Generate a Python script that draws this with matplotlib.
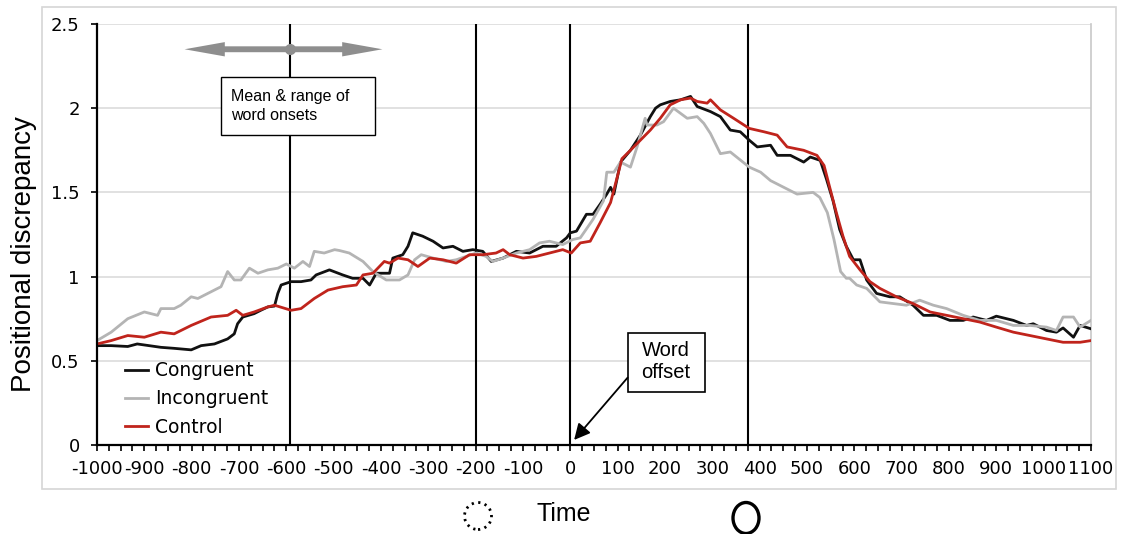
import matplotlib
matplotlib.use("Agg")
import matplotlib.pyplot as plt
import numpy as np
from matplotlib.patches import Rectangle, Ellipse

# ---------------- data ----------------
congruent_time = [-1000, -970, -935, -915, -865, -837, -801, -780, -752, -724,
                  -710, -703, -692, -668, -654, -639, -625, -618, -611, -590,
                  -569, -548, -537, -509, -481, -460, -438, -424, -410, -382,
                  -375, -354, -343, -333, -312, -290, -269, -248, -227, -206,
                  -185, -167, -142, -114, -86, -58, -30, -8, 0, 13,
                  34, 48, 63, 77, 85, 92, 106, 127, 148, 169,
                  180, 190, 211, 233, 254, 268, 296, 317, 338, 359,
                  378, 395, 423, 437, 465, 493, 507, 528, 541, 555,
                  569, 583, 598, 612, 626, 647, 675, 696, 724, 746,
                  774, 802, 830, 851, 879, 900, 936, 964, 978, 1006,
                  1027, 1041, 1063, 1077, 1100]
congruent_value = [0.59, 0.59, 0.585, 0.60, 0.58, 0.574, 0.565, 0.59, 0.60, 0.63,
                   0.66, 0.72, 0.76, 0.78, 0.80, 0.82, 0.825, 0.90, 0.95, 0.97,
                   0.97, 0.98, 1.01, 1.04, 1.01, 0.99, 0.99, 0.95, 1.02, 1.02,
                   1.11, 1.13, 1.18, 1.26, 1.24, 1.21, 1.17, 1.18, 1.15, 1.16,
                   1.15, 1.09, 1.11, 1.15, 1.14, 1.18, 1.18, 1.23, 1.26, 1.27,
                   1.37, 1.37, 1.43, 1.49, 1.53, 1.49, 1.68, 1.75, 1.84, 1.95,
                   2.00, 2.02, 2.04, 2.05, 2.07, 2.01, 1.98, 1.95, 1.87, 1.86,
                   1.81, 1.77, 1.78, 1.72, 1.72, 1.68, 1.71, 1.69, 1.58, 1.45,
                   1.28, 1.18, 1.10, 1.10, 0.98, 0.90, 0.88, 0.88, 0.83, 0.77,
                   0.77, 0.74, 0.74, 0.76, 0.74, 0.765, 0.74, 0.71, 0.72, 0.68,
                   0.67, 0.695, 0.64, 0.71, 0.69]

incongruent_time = [-1000, -970, -935, -900, -872, -865, -837, -823, -801, -787,
                    -759, -738, -724, -710, -696, -678, -660, -639, -618, -600,
                    -583, -565, -551, -541, -520, -498, -488, -467, -438, -417,
                    -389, -361, -343, -329, -315, -290, -262, -241, -220, -199,
                    -178, -164, -142, -114, -86, -65, -44, -16, 5, 21,
                    48, 70, 77, 92, 106, 127, 141, 158, 162, 183,
                    197, 218, 247, 268, 282, 296, 317, 338, 378, 402,
                    423, 451, 479, 513, 527, 543, 557, 571, 583, 590,
                    605, 626, 654, 682, 710, 738, 767, 795, 830, 865,
                    900, 936, 971, 1006, 1027, 1041, 1063, 1077, 1100]
incongruent_value = [0.62, 0.67, 0.75, 0.79, 0.77, 0.81, 0.81, 0.83, 0.88, 0.87,
                     0.91, 0.94, 1.03, 0.98, 0.98, 1.05, 1.02, 1.04, 1.05, 1.075,
                     1.05, 1.09, 1.06, 1.15, 1.14, 1.16, 1.155, 1.14, 1.09, 1.03,
                     0.98, 0.98, 1.01, 1.10, 1.13, 1.11, 1.09, 1.10, 1.12, 1.14,
                     1.12, 1.09, 1.11, 1.14, 1.16, 1.20, 1.21, 1.19, 1.22, 1.23,
                     1.34, 1.45, 1.62, 1.62, 1.68, 1.65, 1.77, 1.94, 1.90, 1.90,
                     1.92, 2.00, 1.94, 1.95, 1.91, 1.85, 1.73, 1.74, 1.65, 1.62,
                     1.57, 1.53, 1.49, 1.50, 1.47, 1.38, 1.22, 1.03, 0.99, 0.99,
                     0.95, 0.93, 0.85, 0.84, 0.83, 0.86, 0.83, 0.81, 0.77, 0.74,
                     0.74, 0.71, 0.71, 0.70, 0.68, 0.76, 0.76, 0.70, 0.74]

control_time = [-1000, -970, -935, -900, -865, -837, -801, -759, -724, -706,
                -692, -668, -639, -625, -590, -569, -541, -512, -481, -452,
                -438, -417, -393, -382, -364, -343, -322, -297, -269, -241,
                -213, -185, -157, -142, -128, -100, -72, -44, -16, 2,
                21, 42, 63, 85, 99, 109, 127, 148, 169, 190,
                211, 233, 254, 268, 289, 296, 317, 345, 378, 409,
                437, 458, 493, 521, 536, 548, 562, 576, 590, 612,
                633, 654, 689, 724, 760, 795, 830, 865, 900, 936,
                971, 1006, 1041, 1077, 1100]
control_value = [0.60, 0.62, 0.65, 0.64, 0.67, 0.66, 0.71, 0.76, 0.77, 0.80,
                 0.77, 0.79, 0.82, 0.83, 0.80, 0.81, 0.87, 0.92, 0.94, 0.95,
                 1.01, 1.02, 1.09, 1.08, 1.11, 1.10, 1.06, 1.11, 1.10, 1.08,
                 1.13, 1.13, 1.14, 1.16, 1.13, 1.11, 1.12, 1.14, 1.16, 1.14,
                 1.20, 1.21, 1.32, 1.44, 1.59, 1.70, 1.75, 1.81, 1.87, 1.94,
                 2.02, 2.05, 2.06, 2.04, 2.03, 2.05, 1.99, 1.94, 1.88, 1.86,
                 1.84, 1.77, 1.75, 1.72, 1.66, 1.53, 1.38, 1.24, 1.12, 1.04,
                 0.97, 0.93, 0.88, 0.84, 0.79, 0.77, 0.75, 0.73, 0.70, 0.67,
                 0.65, 0.63, 0.61, 0.61, 0.62]

series_labels = ["Congruent", "Incongruent", "Control"]
series_colors = ["#111111", "#b4b4b4", "#c0241c"]

x_tick_values = list(range(-1000, 1101, 100))
x_tick_labels = [str(v) for v in x_tick_values]
y_tick_values = [0, 0.5, 1, 1.5, 2, 2.5]
y_tick_labels = ["0", "0.5", "1", "1.5", "2", "2.5"]

marker_lines = [-592, -200, 0, 375]      # mean onset, window edges, word offset
onset_mean, onset_low, onset_high = -593, -815, -397

# ---------------- figure ----------------
W, H = 1124, 534
fig = plt.figure(figsize=(W / 100, H / 100), dpi=100)
fig.patch.set_facecolor("white")


def fx(px):
    return px / W


def fy(py):
    return 1 - py / H


narrow = ["Liberation Sans Narrow", "Liberation Sans", "DejaVu Sans"]
helv = ["Liberation Sans", "DejaVu Sans"]

# outer frame
fig.add_artist(Rectangle((fx(42), fy(489)), fx(1116) - fx(42), fy(7) - fy(489),
                         transform=fig.transFigure, fill=False,
                         edgecolor="#d6d6d6", linewidth=1.2))

ax = fig.add_axes([fx(97), fy(445), fx(1091) - fx(97), fy(24) - fy(445)])
ax.set_xlim(-1000, 1100)
ax.set_ylim(0, 2.5)

for y in y_tick_values[1:]:
    ax.axhline(y, color="#d9d9d9", linewidth=1.1, zorder=1)

for xv in marker_lines:
    ax.axvline(xv, color="black", linewidth=1.5, zorder=2)

lines = []
for t, v, lab, col in zip([congruent_time, incongruent_time, control_time],
                          [congruent_value, incongruent_value, control_value],
                          series_labels, series_colors):
    ln, = ax.plot(t, v, color=col, linewidth=2.0, label=lab, zorder=4)
    lines.append(ln)

# spines
ax.spines["top"].set_visible(False)
ax.spines["right"].set_color("#c8c8c8")
ax.spines["right"].set_linewidth(1.2)
ax.spines["left"].set_linewidth(1.6)
ax.spines["bottom"].set_linewidth(1.6)
ax.spines["left"].set_zorder(5)
ax.spines["bottom"].set_zorder(5)

ax.set_xticks(x_tick_values)
ax.set_xticklabels(x_tick_labels)
ax.set_xticks(list(range(-1000, 1101, 25)), minor=True)
ax.set_yticks(y_tick_values)
ax.set_yticklabels(y_tick_labels)
ax.tick_params(axis="x", which="both", direction="out", length=4.5, width=1.2,
               pad=6, labelsize=13)
ax.tick_params(axis="y", which="both", direction="out", length=4.5, width=1.2,
               pad=8, labelsize=13)

# legend
ax.legend(handles=lines, loc="center left",
          bbox_to_anchor=((125 - 97) / 994, (445 - 399) / 421),
          frameon=False, fontsize=13.5, handlelength=1.25, handletextpad=0.35,
          labelspacing=0.5, borderpad=0, borderaxespad=0)

# word-onset range arrow
for end in (onset_high, onset_low):
    ax.arrow(onset_mean, 2.35, end - onset_mean, 0, width=0.035,
             head_width=0.085, head_length=85, length_includes_head=True,
             color="#8e8e8e", zorder=6, linewidth=0)
ax.plot([onset_mean], [2.35], marker="o", markersize=7, color="#8e8e8e",
        zorder=7)

# onset box
ax.add_patch(Rectangle((-739, 1.84), 327, 0.345, facecolor="white",
                       edgecolor="black", linewidth=1.0, zorder=6))
ax.text(-716, 2.013, "Mean & range of\nword onsets", fontsize=11.5,
        family=narrow, ha="left", va="center", linespacing=1.35, zorder=7)

# word offset box
ax.add_patch(Rectangle((121, 0.315), 163, 0.35, facecolor="white",
                       edgecolor="black", linewidth=1.2, zorder=6))
ax.text(202.5, 0.493, "Word\noffset", fontsize=14.5, family=narrow,
        ha="center", va="center", linespacing=1.2, zorder=7)
ax.annotate("", xy=(8, 0.03), xytext=(121, 0.40),
            arrowprops=dict(arrowstyle="-|>", color="black", lw=1.3,
                            mutation_scale=24, shrinkA=0, shrinkB=0),
            zorder=7)

# axis titles
fig.text(fx(24), fy(254), "Positional discrepancy", rotation=90, fontsize=20,
         family=helv, ha="center", va="center")
fig.text(fx(564), fy(514), "Time", fontsize=18, family=helv,
         ha="center", va="center")

# circles under the time axis
fig.add_artist(Ellipse((fx(478), fy(516)), 27 / W, 27 / H,
                       transform=fig.transFigure, fill=False,
                       edgecolor="black", linewidth=2.0,
                       linestyle=(0, (0.8, 1.6))))
fig.add_artist(Ellipse((fx(746), fy(518)), 26 / W, 31 / H,
                       transform=fig.transFigure, fill=False,
                       edgecolor="black", linewidth=2.4))

fig.savefig("out.png", dpi=100, facecolor="white")
